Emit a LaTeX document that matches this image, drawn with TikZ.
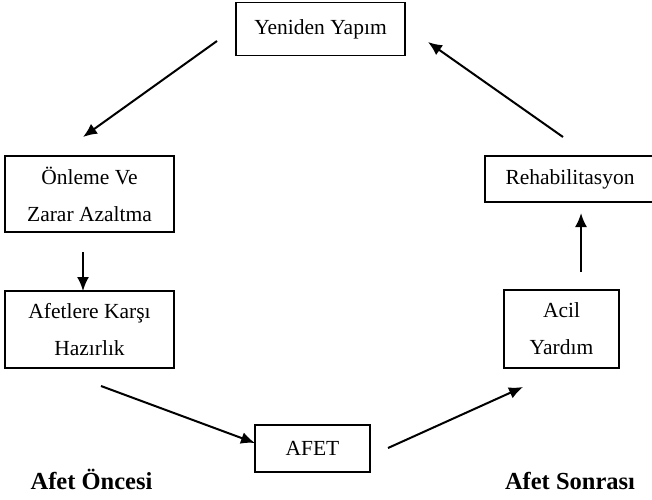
\documentclass[tikz,border=0pt]{standalone}
\usepackage{fontspec}
\setmainfont{Liberation Serif}
\usetikzlibrary{arrows.meta}
\tikzset{
  stagebox/.style={draw, line width=1.5pt, rectangle, inner sep=0pt, align=center,
    font=\fontsize{21.5}{37}\selectfont},
  flowarrow/.style={line width=2pt, -{Latex[length=14pt,width=12pt]}},
  phaselabel/.style={font=\fontsize{24.5}{28}\selectfont\bfseries, anchor=base, inner sep=0pt}
}
\begin{document}
\begin{tikzpicture}[x=1pt,y=-1pt]
\useasboundingbox (0,0) rectangle (652,499);
\node[stagebox, minimum width=169pt, minimum height=53pt] (yeniden) at (320.5,29) {Yeniden Yapım};
\node[stagebox, minimum width=169pt, minimum height=76pt] (onleme) at (89.5,194) {Önleme Ve\\Zarar Azaltma};
\node[stagebox, minimum width=169pt, minimum height=77pt] (afetlere) at (89.5,329.5) {Afetlere Karşı\\Hazırlık};
\node[stagebox, minimum width=170pt, minimum height=46pt] (rehab) at (570,179) {Rehabilitasyon};
\node[stagebox, minimum width=115pt, minimum height=78pt] (acil) at (561.5,329) {Acil\\Yardım};
\node[stagebox, minimum width=115pt, minimum height=47pt] (afet) at (312.5,448.5) {AFET};
\node[phaselabel] (oncesi) at (91.5,489) {Afet Öncesi};
\node[phaselabel] (sonrasi) at (570,489) {Afet Sonrası};

\coordinate (a1s) at (217,41);  \coordinate (a1e) at (83,137);
\coordinate (a2s) at (83,252);  \coordinate (a2e) at (83,291);
\coordinate (a3s) at (101,386); \coordinate (a3e) at (255,443);
\coordinate (a4s) at (388,448); \coordinate (a4e) at (523,387);
\coordinate (a5s) at (581,272); \coordinate (a5e) at (581,213);
\coordinate (a6s) at (563,137); \coordinate (a6e) at (428,42);

\draw[flowarrow] (a1s) -- (a1e);
\draw[flowarrow] (a2s) -- (a2e);
\draw[flowarrow] (a3s) -- (a3e);
\draw[flowarrow] (a4s) -- (a4e);
\draw[flowarrow] (a5s) -- (a5e);
\draw[flowarrow] (a6s) -- (a6e);
\end{tikzpicture}
\end{document}
